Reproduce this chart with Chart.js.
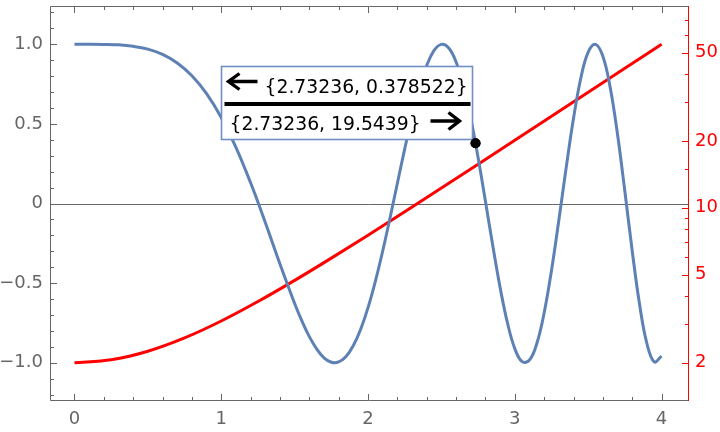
<!DOCTYPE html>
<html lang="en">
<head>
<meta charset="UTF-8">
<title>Two axis plot</title>
<script src="https://cdn.jsdelivr.net/npm/chart.js"></script>
<style>
  html, body { margin: 0; padding: 0; background: #fff; }
</style>
</head>
<body>
<canvas id="plot" width="720" height="432"></canvas>
<script>
// blue curve (left axis)
const blueX = [0, 0.1, 0.2, 0.3, 0.4, 0.5, 0.6, 0.7, 0.8, 0.9, 1.0, 1.1, 1.2, 1.3, 1.4, 1.5,
  1.55, 1.6, 1.65, 1.7, 1.75, 1.8, 1.85, 1.9, 1.95, 2.0, 2.05, 2.1, 2.15, 2.2, 2.25, 2.3, 2.35,
  2.4, 2.45, 2.5, 2.55, 2.6, 2.65, 2.7, 2.75, 2.8, 2.85, 2.9, 2.95, 3.0, 3.05, 3.1, 3.15, 3.2,
  3.25, 3.3, 3.35, 3.4, 3.45, 3.5, 3.55, 3.6, 3.65, 3.7, 3.75, 3.8, 3.85, 3.9, 3.95, 4.0];
const blueY = [1.000, 1.000, 0.999, 0.996, 0.987, 0.969, 0.936, 0.882, 0.802, 0.690, 0.540, 0.353,
  0.130, -0.119, -0.380, -0.628, -0.739, -0.836, -0.913, -0.969, -0.997, -0.995, -0.961, -0.892,
  -0.789, -0.654, -0.488, -0.298, -0.090, 0.127, 0.343, 0.546, 0.724, 0.866, 0.961, 0.999, 0.976,
  0.888, 0.739, 0.535, 0.287, 0.014, -0.265, -0.528, -0.750, -0.911, -0.993, -0.983, -0.879,
  -0.686, -0.420, -0.105, 0.225, 0.535, 0.788, 0.950, 0.999, 0.924, 0.728, 0.433, 0.075, -0.298,
  -0.633, -0.879, -0.994, -0.958];

// red curve (right, log axis)
const redX = [0, 0.25, 0.5, 0.75, 1.0, 1.25, 1.5, 1.75, 2.0, 2.25, 2.5, 2.75, 3.0, 3.25, 3.5, 3.75, 4.0];
const redY = [2.0, 2.063, 2.255, 2.589, 3.086, 3.777, 4.705, 5.928, 7.524, 9.593, 12.265, 15.707,
  20.135, 25.829, 33.146, 42.544, 54.616];

// marked point
const markX = 2.73236;
const markY = 0.378522;
const markR = 19.5439;

// ticks
const xTicks = [0, 1, 2, 3, 4];
const xLabels = ['0', '1', '2', '3', '4'];
const xMinor = [0.2, 0.4, 0.6, 0.8, 1.2, 1.4, 1.6, 1.8, 2.2, 2.4, 2.6, 2.8, 3.2, 3.4, 3.6, 3.8];
const leftTicks = [-1, -0.5, 0, 0.5, 1];
const leftLabels = ['\u22121.0', '\u22120.5', '0', '0.5', '1.0'];
const leftMinor = [-1.2, -1.1, -0.9, -0.8, -0.7, -0.6, -0.4, -0.3, -0.2, -0.1,
  0.1, 0.2, 0.3, 0.4, 0.6, 0.7, 0.8, 0.9, 1.1, 1.2];
const rightTicks = [2, 5, 10, 20, 50];
const rightLabels = ['2', '5', '10', '20', '50'];
const rightMinor = [3, 4, 6, 7, 8, 9, 15, 30, 40, 60, 70];

const GRAY = '#666';
const BLUE = '#5E81B5';
const RED = '#ff0000';

Chart.defaults.font.family = 'DejaVu Sans';
Chart.defaults.font.size = 18;

// no extra room for half labels at the ends of the axes
function noPad(s) {
  s.paddingTop = 0; s.paddingBottom = 0; s.paddingLeft = 0; s.paddingRight = 0;
}

const framePlugin = {
  id: 'frame',
  beforeDatasetsDraw(chart) {
    const { ctx, chartArea: a, scales } = chart;
    const y0 = Math.round(scales.y.getPixelForValue(0)) + 0.5;
    ctx.save();
    ctx.strokeStyle = GRAY;
    ctx.lineWidth = 1;
    ctx.beginPath();
    ctx.moveTo(a.left, y0);
    ctx.lineTo(a.right, y0);
    ctx.stroke();
    ctx.restore();
  },
  afterDatasetsDraw(chart) {
    const { ctx, chartArea: a, scales } = chart;
    const L = a.left - 0.5, R = a.right + 0.5, T = a.top + 0.5, B = a.bottom - 0.5;
    ctx.save();
    ctx.lineWidth = 1;

    // gray frame: left, top, bottom
    ctx.strokeStyle = GRAY;
    ctx.beginPath();
    ctx.moveTo(L, T); ctx.lineTo(R, T);
    ctx.moveTo(L, T); ctx.lineTo(L, B);
    ctx.moveTo(L, B); ctx.lineTo(R, B);
    // x ticks, bottom and top
    const xt = (v, len) => {
      const px = Math.round(scales.x.getPixelForValue(v)) + 0.5;
      ctx.moveTo(px, B); ctx.lineTo(px, B - len);
      ctx.moveTo(px, T); ctx.lineTo(px, T + len);
    };
    xTicks.forEach(v => xt(v, 6.5));
    xMinor.forEach(v => xt(v, 3.5));
    // left ticks
    const lt = (v, len) => {
      const py = Math.round(scales.y.getPixelForValue(v)) + 0.5;
      ctx.moveTo(L, py); ctx.lineTo(L + len, py);
    };
    leftTicks.forEach(v => lt(v, 6.5));
    leftMinor.forEach(v => lt(v, 3.5));
    ctx.stroke();

    // red right axis
    ctx.strokeStyle = RED;
    ctx.beginPath();
    ctx.moveTo(R, a.top); ctx.lineTo(R, a.bottom);
    const rt = (v, len) => {
      const py = Math.round(scales.yR.getPixelForValue(v)) + 0.5;
      ctx.moveTo(R, py); ctx.lineTo(R - len, py);
    };
    rightTicks.forEach(v => rt(v, 6.5));
    rightMinor.forEach(v => rt(v, 3.5));
    ctx.stroke();

    // annotation box next to the marked point
    const px = scales.x.getPixelForValue(markX);
    const py = scales.y.getPixelForValue(markY);
    const bx = Math.round(px - 255) + 0.5, by = Math.round(py - 77) + 0.5;
    const bw = 251, bh = 73;
    ctx.fillStyle = '#fff';
    ctx.fillRect(bx, by, bw, bh);
    ctx.strokeStyle = '#6f8fc4';
    ctx.lineWidth = 1.6;
    ctx.strokeRect(bx, by, bw, bh);

    ctx.strokeStyle = '#000';
    ctx.lineWidth = 4;
    ctx.beginPath();
    ctx.moveTo(bx + 3, by + 37.5); ctx.lineTo(bx + bw - 2, by + 37.5);
    ctx.stroke();

    // arrows
    ctx.lineWidth = 3.4;
    ctx.lineCap = 'butt';
    ctx.lineJoin = 'miter';
    ctx.beginPath();
    const ay1 = by + 15;
    ctx.moveTo(bx + 36, ay1); ctx.lineTo(bx + 7, ay1);
    ctx.moveTo(bx + 18, ay1 - 8); ctx.lineTo(bx + 7, ay1); ctx.lineTo(bx + 18, ay1 + 8);
    const ay2 = by + 54.5;
    ctx.moveTo(bx + 209, ay2); ctx.lineTo(bx + 238, ay2);
    ctx.moveTo(bx + 227, ay2 - 8.5); ctx.lineTo(bx + 238, ay2); ctx.lineTo(bx + 227, ay2 + 8.5);
    ctx.stroke();

    ctx.fillStyle = '#000';
    ctx.font = '18.8px "DejaVu Sans"';
    ctx.textBaseline = 'alphabetic';
    ctx.textAlign = 'left';
    ctx.fillText('{' + markX + ', ' + markY + '}', bx + 43, by + 26.5);
    ctx.fillText('{' + markX + ', ' + markR + '}', bx + 8, by + 63);
    ctx.restore();

    // dot on top of the box
    const meta = chart.getDatasetMeta(0);
    meta.data.forEach(el => el.draw(ctx, a));
  }
};

new Chart(document.getElementById('plot'), {
  type: 'line',
  data: {
    datasets: [
      {
        label: 'point',
        data: [{ x: markX, y: markY }],
        yAxisID: 'y',
        showLine: false,
        pointRadius: 5,
        pointBackgroundColor: '#000',
        pointBorderWidth: 0,
        order: 0
      },
      {
        label: 'blue',
        data: blueX.map((x, i) => ({ x, y: blueY[i] })),
        yAxisID: 'y',
        borderColor: BLUE,
        borderWidth: 3,
        pointRadius: 0,
        tension: 0.4,
        fill: false,
        order: 1
      },
      {
        label: 'red',
        data: redX.map((x, i) => ({ x, y: redY[i] })),
        yAxisID: 'yR',
        borderColor: RED,
        borderWidth: 3,
        pointRadius: 0,
        cubicInterpolationMode: 'monotone',
        fill: false,
        order: 2
      }
    ]
  },
  options: {
    responsive: false,
    animation: false,
    devicePixelRatio: 1,
    layout: { padding: { top: 6, left: 0, right: 0, bottom: 0 } },
    plugins: { legend: { display: false }, tooltip: { enabled: false } },
    scales: {
      x: {
        type: 'linear',
        min: -0.16,
        max: 4.18,
        grid: { display: false, drawTicks: false },
        border: { display: false },
        afterBuildTicks: s => { s.ticks = xTicks.map(v => ({ value: v })); },
        afterFit: s => { s.height = 31; noPad(s); },
        ticks: { color: GRAY, padding: 8, maxRotation: 0, callback: (v, i) => xLabels[i] }
      },
      y: {
        type: 'linear',
        position: 'left',
        min: -1.24,
        max: 1.24,
        grid: { display: false, drawTicks: false },
        border: { display: false },
        afterBuildTicks: s => { s.ticks = leftTicks.map(v => ({ value: v })); },
        afterFit: s => { s.width = 51; noPad(s); },
        ticks: { color: GRAY, padding: 8, callback: (v, i) => leftLabels[i] }
      },
      yR: {
        type: 'logarithmic',
        position: 'right',
        min: 1.345,
        max: 81.2,
        grid: { display: false, drawTicks: false },
        border: { display: false },
        afterBuildTicks: s => { s.ticks = rightTicks.map(v => ({ value: v })); },
        afterFit: s => { s.width = 32; noPad(s); },
        ticks: { color: RED, padding: 7, callback: (v, i) => rightLabels[i] }
      }
    }
  },
  plugins: [framePlugin]
});
</script>
</body>
</html>
